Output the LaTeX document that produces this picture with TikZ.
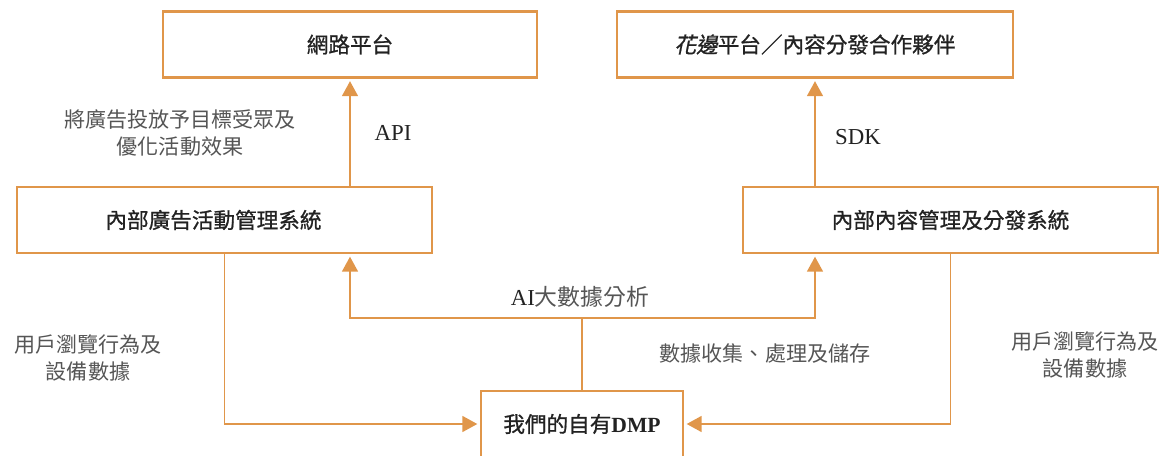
\documentclass[tikz,border=0pt]{standalone}
\usepackage{fontspec}
\setmainfont{Liberation Serif}
\newfontfamily\cjk{Noto Sans CJK TC}
\newfontfamily\cjkmed[FakeBold=0.9]{Noto Sans CJK TC}
\newfontfamily\cjkslant[FakeSlant=0.2,FakeBold=0.9]{Noto Sans CJK TC}
\usetikzlibrary{arrows.meta}
\definecolor{linecol}{HTML}{E0964A}
\definecolor{labelcol}{HTML}{555555}
\definecolor{boxtext}{HTML}{222222}
\tikzset{
  box/.style={draw=linecol, line width=1.2pt, minimum height=1.32cm,
    font=\cjkmed\fontsize{12.3}{14}\selectfont, text=boxtext},
  lbl/.style={font=\cjk\fontsize{12}{15}\selectfont, text=labelcol, align=center},
  latin/.style={font=\fontsize{13}{15}\selectfont, text=boxtext},
  link/.style={draw=linecol, line width=1.1pt},
  flow/.style={link, -{Triangle[width=9pt,length=8.5pt]}, shorten >=1.5pt},
}

\begin{document}
\begin{tikzpicture}[x=0.02cm, y=-0.02cm]
\useasboundingbox (0,0) rectangle (1164,456);
% boxes
\node[box, minimum width=7.48cm] (web) at (350,44.5) {網路平台};
\node[box, minimum width=7.92cm] (partner) at (815,44.5) {{\cjkslant 花邊}平台／內容分發合作夥伴};
\node[box, minimum width=8.3cm] (adsys) at (224.5,220) {內部廣告活動管理系統\kern0.44cm\null};
\node[box, minimum width=8.3cm] (cmsys) at (950.5,220) {內部內容管理及分發系統};
\node[box, minimum width=4.04cm] (dmp) at (582,424) {我們的自有{\rmfamily\bfseries DMP}};
% labels
\node[lbl] (adgoal) at (180,133) {將廣告投放予目標受眾及\\優化活動效果};
\node[latin] (api) at (393,133) {API};
\node[latin] (sdk) at (858,137) {SDK};
\node[latin] (ai) at (580,297) {AI{\cjk\color{labelcol}大數據分析}};
\node[lbl] (store) at (765,354) {數據收集、處理及儲存};
\node[lbl] (lbrowse) at (88,358) {用戶瀏覽行為及\\設備數據};
\node[lbl] (rbrowse) at (1085,355) {用戶瀏覽行為及\\設備數據};
% connectors
\draw[flow] (web.south |- adsys.north) -- (web.south);
\draw[flow] (partner.south |- cmsys.north) -- (partner.south);
\coordinate (split) at (dmp.north |- 0,318);
\draw[link] (dmp.north) -- (split);
\draw[flow] (split) -| (adsys.south -| web.south);
\draw[flow] (split) -| (cmsys.south -| partner.south);
\draw[flow] (adsys.south) |- (dmp.west);
\draw[flow] (cmsys.south) |- (dmp.east);
\end{tikzpicture}
\end{document}
